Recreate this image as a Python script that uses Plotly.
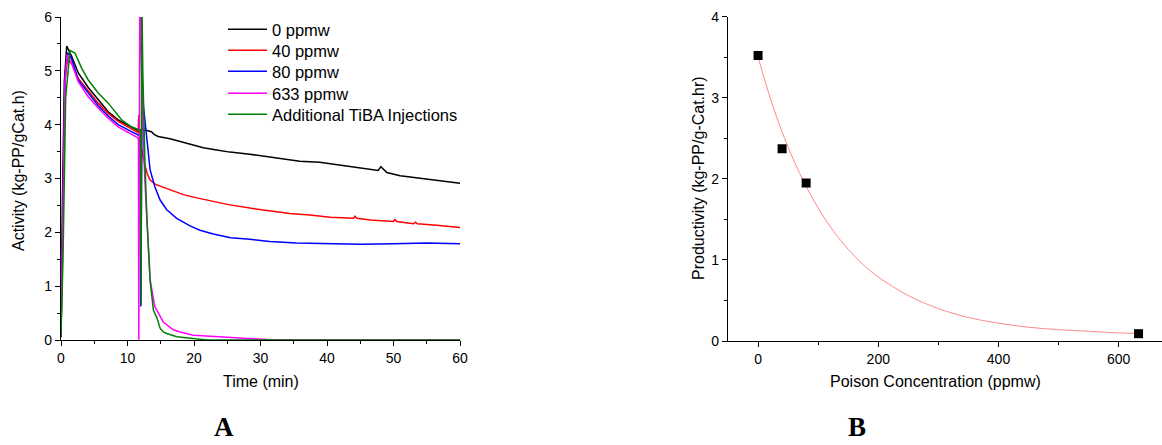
import plotly.graph_objects as go

# ---------------- Panel A data (Activity vs time) ----------------
t_0 = [0, 0.2, 0.5, 0.86, 1.6, 2.6, 4.1, 5.6, 7.1, 8.6, 10.6, 11.6, 12.3, 13.0, 13.6, 14.0,
       14.6, 16.4, 17.9, 19.9, 21.4, 23.4, 25.4, 28.4, 30.9, 33.0, 35.9, 38.9, 42.0, 45.0,
       47.7, 48.1, 49.0, 51.0, 54.0, 57.0, 60.0]
v_0 = [0.05, 2.5, 4.8, 5.46, 5.27, 4.96, 4.69, 4.46, 4.24, 4.09, 3.96, 3.89, 3.91, 3.89, 3.87, 3.82,
       3.78, 3.74, 3.69, 3.63, 3.57, 3.53, 3.49, 3.45, 3.41, 3.37, 3.32, 3.30, 3.25, 3.19,
       3.15, 3.22, 3.11, 3.05, 3.00, 2.96, 2.91]

t_40 = [0, 0.25, 0.6, 0.95, 1.6, 2.6, 4.1, 5.6, 7.1, 8.6, 10.6, 11.6, 11.7, 11.8, 12.3, 12.6,
        13.0, 13.4, 14.2, 16.4, 18.4, 20.4, 22.4, 25.4, 28.4, 31.4, 34.4, 37.4, 40.5, 44.0,
        44.2, 44.5, 46.5, 50.0, 50.2, 50.5, 53.0, 53.3, 53.6, 56.5, 60.0]
v_40 = [0.1, 2.5, 4.8, 5.2, 5.14, 4.86, 4.62, 4.4, 4.21, 4.06, 3.92, 3.85, 4.18, 3.7, 3.45, 3.25,
        3.08, 2.97, 2.89, 2.79, 2.70, 2.64, 2.59, 2.51, 2.45, 2.40, 2.35, 2.32, 2.28, 2.26,
        2.30, 2.26, 2.23, 2.20, 2.24, 2.20, 2.16, 2.19, 2.16, 2.13, 2.09]

t_80 = [0, 0.25, 0.6, 1.0, 1.6, 2.6, 4.1, 5.6, 7.1, 8.6, 10.6, 11.6, 11.9, 12.0, 12.2, 12.35,
        12.6, 13.1, 13.4, 14.1, 14.9, 15.9, 17.4, 19.4, 20.9, 22.9, 24.9, 25.5, 28.4, 31.4,
        35.4, 40.5, 45.0, 50.0, 55.0, 60.0]
v_80 = [0.1, 2.5, 4.9, 5.34, 5.22, 4.83, 4.59, 4.35, 4.16, 4.0, 3.87, 3.81, 3.79, 0.62, 4.65, 4.4,
        4.09, 3.47, 3.16, 2.85, 2.60, 2.42, 2.26, 2.12, 2.04, 1.97, 1.92, 1.90, 1.87, 1.83,
        1.80, 1.79, 1.78, 1.79, 1.80, 1.79]

t_633 = [0, 0.25, 0.6, 0.9, 1.6, 2.6, 4.1, 5.6, 7.1, 8.6, 10.6, 11.5, 11.65, 11.7, 11.85, 12.2,
         12.6, 12.9, 13.4, 14.1, 15.4, 16.9, 17.9, 19.9, 22.0, 25.0, 28.0, 31.0, 35.0, 60.0]
v_633 = [0.1, 2.5, 4.8, 5.3, 5.14, 4.8, 4.52, 4.31, 4.12, 3.96, 3.83, 3.76, 3.72, 0.0, 6.5, 4.5,
         3.0, 2.2, 1.12, 0.62, 0.33, 0.19, 0.15, 0.09, 0.07, 0.05, 0.03, 0.01, 0.0, 0.0]

t_tiba = [0, 0.3, 0.7, 1.35, 2.1, 3.1, 4.1, 5.6, 7.1, 7.9, 9.1, 10.6, 11.6, 11.95, 12.05, 12.15,
          12.3, 12.6, 12.9, 13.4, 13.9, 14.4, 14.9, 15.4, 15.9, 17.4, 19.9, 22.0, 60.0]
v_tiba = [0.1, 1.5, 4.5, 5.38, 5.33, 5.05, 4.83, 4.59, 4.4, 4.28, 4.09, 3.96, 3.91, 3.87, 0.65, 6.5,
          5.0, 3.4, 2.3, 1.1, 0.55, 0.42, 0.22, 0.15, 0.12, 0.06, 0.02, 0.0, 0.0]

series_names = ["0 ppmw", "40 ppmw", "80 ppmw", "633 ppmw", "Additional TiBA Injections"]
series_colors = ["#000000", "#ff0000", "#0000ff", "#ff00ff", "#008000"]

# ---------------- Panel B data (Productivity vs poison) ----------------
poison_ppmw = [0, 40, 80, 633]
productivity = [3.52, 2.37, 1.95, 0.09]

fit_x = [0, 25, 50, 75, 100, 125, 150, 175, 200, 250, 300, 350, 400, 450, 500, 550, 600, 633]
fit_y = [3.50, 2.89, 2.39, 1.98, 1.64, 1.36, 1.13, 0.94, 0.79, 0.56, 0.40, 0.29, 0.22, 0.17,
         0.14, 0.12, 0.10, 0.094]

W, H = 1162, 445
FONT = "Liberation Sans, Arial, sans-serif"

fig = go.Figure()

legend_ids = ["legend", "legend2", "legend3", "legend4", "legend5"]
for t, v, name, col, lg in zip([t_0, t_40, t_80, t_633, t_tiba],
                               [v_0, v_40, v_80, v_633, v_tiba],
                               series_names, series_colors, legend_ids):
    fig.add_trace(go.Scatter(x=t, y=v, mode="lines", name=name, legend=lg,
                             line=dict(color=col, width=1.5),
                             xaxis="x", yaxis="y"))

fig.add_trace(go.Scatter(x=fit_x, y=fit_y, mode="lines", showlegend=False,
                         line=dict(color="#ff8a8a", width=1, shape="spline"),
                         xaxis="x2", yaxis="y2"))
fig.add_trace(go.Scatter(x=poison_ppmw, y=productivity, mode="markers", showlegend=False,
                         marker=dict(symbol="square", color="#000000", size=9),
                         xaxis="x2", yaxis="y2"))

axis_common = dict(showgrid=False, zeroline=False, showline=True, linecolor="#000000",
                   linewidth=1.3, ticks="outside", ticklen=5, tickwidth=1.2, tickcolor="#000000",
                   tickfont=dict(family=FONT, size=14, color="#000000"), mirror=False,
                   automargin=False)

legend_centers = [34, 55, 76, 98, 119]
legend_layouts = {}
for lg, yc in zip(legend_ids, legend_centers):
    legend_layouts[lg] = dict(x=223 / W, y=1 - (yc - 22) / H, xanchor="left", yanchor="top",
                              bgcolor="rgba(0,0,0,0)", itemwidth=39,
                              font=dict(family=FONT, size=16.5, color="#000000"))

fig.update_layout(
    width=W, height=H,
    margin=dict(l=0, r=0, t=0, b=0),
    paper_bgcolor="white", plot_bgcolor="white",
    font=dict(family=FONT, color="#000000"),
    xaxis=dict(domain=[61 / W, 460 / W], range=[0, 60], dtick=10, anchor="y",
               minor=dict(ticks="outside", ticklen=3, dtick=5, tickcolor="#000000"),
               **axis_common),
    yaxis=dict(domain=[105 / H, 428 / H], range=[0, 6], dtick=1, anchor="x",
               minor=dict(ticks="outside", ticklen=3, dtick=0.5, tickcolor="#000000"),
               **axis_common),
    xaxis2=dict(domain=[728 / W, 1.0], range=[-50, 672], dtick=200, anchor="y2",
                minor=dict(ticks="outside", ticklen=3, dtick=100, tickcolor="#000000"),
                **axis_common),
    yaxis2=dict(domain=[104 / H, 428.3 / H], range=[0, 4], dtick=1, anchor="x2",
                minor=dict(ticks="outside", ticklen=3, dtick=0.5, tickcolor="#000000"),
                **axis_common),
    showlegend=True,
    **legend_layouts,
)

annots = [
    dict(text="Time (min)", x=261 / W, y=1 - 381 / H, font=dict(size=16)),
    dict(text="Activity (kg-PP/gCat.h)", x=19 / W, y=1 - 171 / H, textangle=-90, font=dict(size=16)),
    dict(text="Poison Concentration (ppmw)", x=935 / W, y=1 - 381 / H, font=dict(size=16)),
    dict(text="Productivity (kg-PP/g-Cat.hr)", x=698 / W, y=1 - 178 / H, textangle=-90, font=dict(size=16)),
    dict(text="<b>A</b>", x=224 / W, y=1 - 427 / H,
         font=dict(size=27, family="Liberation Serif, DejaVu Serif, serif")),
    dict(text="<b>B</b>", x=857 / W, y=1 - 427 / H,
         font=dict(size=27, family="Liberation Serif, DejaVu Serif, serif")),
]
for a in annots:
    f = dict(family=FONT, color="#000000")
    f.update(a.pop("font"))
    fig.add_annotation(xref="paper", yref="paper", xanchor="center", yanchor="middle",
                       showarrow=False, font=f, **a)

fig.write_html("out.html")
